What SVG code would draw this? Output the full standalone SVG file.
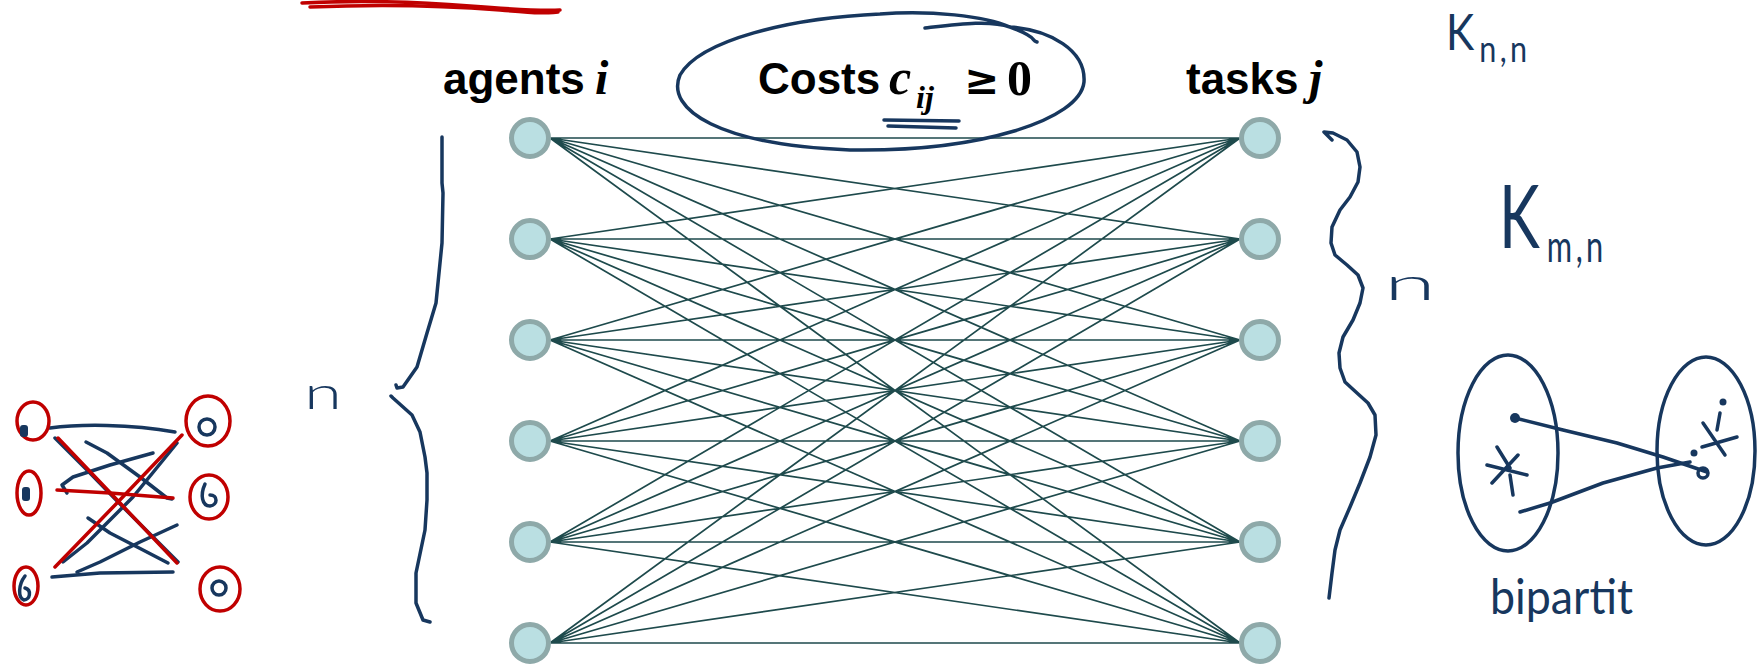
<svg xmlns="http://www.w3.org/2000/svg" width="1757" height="665" viewBox="0 0 1757 665">
<style>
.node{fill:#badfe2;stroke:#8ea9a9;stroke-width:5}
.edge{stroke:#1e4a4c;stroke-width:1.7;fill:none}
.lbl{font-family:"Liberation Sans",Arial,sans-serif;font-weight:bold;font-size:44px;fill:#000}
.math{font-family:"Liberation Serif","Times New Roman",serif;font-weight:bold;font-style:italic}
.ink{fill:none;stroke:#17375e;stroke-width:3.5;stroke-linecap:round;stroke-linejoin:round}
.red{fill:none;stroke:#c00000;stroke-width:3.5;stroke-linecap:round;stroke-linejoin:round}
.hand{font-family:Lato,"DejaVu Sans",sans-serif;font-weight:400;fill:#17375e}
.thin{font-weight:300}
</style>
<rect width="1757" height="665" fill="#fff"/>

<g id="connectors">
<path class="edge" d="M550 138L1240 138M550 138L1240 239M550 138L1240 340M550 138L1240 441M550 138L1240 542M550 138L1240 643
M550 239L1240 138M550 239L1240 239M550 239L1240 340M550 239L1240 441M550 239L1240 542M550 239L1240 643
M550 340L1240 138M550 340L1240 239M550 340L1240 340M550 340L1240 441M550 340L1240 542M550 340L1240 643
M550 441L1240 138M550 441L1240 239M550 441L1240 340M550 441L1240 441M550 441L1240 542M550 441L1240 643
M550 542L1240 138M550 542L1240 239M550 542L1240 340M550 542L1240 441M550 542L1240 542M550 542L1240 643
M550 643L1240 138M550 643L1240 239M550 643L1240 340M550 643L1240 441M550 643L1240 542M550 643L1240 643"/>
</g>

<g id="agent1"><circle class="node" cx="530" cy="138" r="18.5"/></g>
<g id="agent2"><circle class="node" cx="530" cy="239" r="18.5"/></g>
<g id="agent3"><circle class="node" cx="530" cy="340" r="18.5"/></g>
<g id="agent4"><circle class="node" cx="530" cy="441" r="18.5"/></g>
<g id="agent5"><circle class="node" cx="530" cy="542" r="18.5"/></g>
<g id="agent6"><circle class="node" cx="530" cy="643" r="18.5"/></g>
<g id="task1"><circle class="node" cx="1260" cy="138" r="18.5"/></g>
<g id="task2"><circle class="node" cx="1260" cy="239" r="18.5"/></g>
<g id="task3"><circle class="node" cx="1260" cy="340" r="18.5"/></g>
<g id="task4"><circle class="node" cx="1260" cy="441" r="18.5"/></g>
<g id="task5"><circle class="node" cx="1260" cy="542" r="18.5"/></g>
<g id="task6"><circle class="node" cx="1260" cy="643" r="18.5"/></g>

<g id="titles">
<text class="lbl" x="443" y="94">agents<tspan class="math" x="595" font-size="48">i</tspan></text>
<text class="lbl" x="758" y="94">Costs<tspan class="math" x="889" font-size="50">c</tspan><tspan class="math" x="916" y="108" font-size="32">ij</tspan><tspan x="964" y="94" font-weight="bold" font-family="DejaVu Sans,sans-serif" font-size="42">≥</tspan><tspan x="1007" y="95" font-family="Liberation Serif,serif" font-size="50">0</tspan></text>
<text class="lbl" x="1186" y="94">tasks<tspan class="math" x="1309" font-size="48">j</tspan></text>
</g>

<g id="ink-annotations">
<path class="red" stroke-width="6" d="M302 3C360 0 420 2 470 6S540 11 560 10"/>
<path class="red" stroke-width="3" d="M310 7C380 4 450 6 500 10S545 13 558 12"/>
<path class="ink" d="M925 28C960 24 990 20 1010 27C1040 38 1030 40 1037 42M1010 27C985 16 930 10 880 14C790 18 700 40 680 75C665 110 720 145 850 150C980 152 1080 120 1084 82C1086 50 1050 30 1010 27"/>
<path class="ink" stroke-width="4" d="M884 120L959 121M888 126L956 128"/>

<path class="ink" d="M442 137L442 183L443 193L442 243L436 303L427 333L417 367L410 377L403 387L397 388L396 385M391 396L393 398L412 415L420 432L425 457L427 473L427 500L425 530L416 573L416 603L423 620L430 622"/>
<text class="hand thin" x="304" y="409" font-size="46" textLength="38" lengthAdjust="spacingAndGlyphs">n</text>

<path class="ink" d="M1332 140L1324 132L1333 133L1347 140L1357 152L1360 167L1358 182L1350 197L1340 210L1332 227L1331 243L1335 255L1347 265L1358 275L1363 288L1360 303L1353 320L1343 337L1339 353L1340 368L1345 382L1357 393L1368 403L1375 415L1376 435L1370 457L1360 483L1350 507L1340 530L1335 550L1332 573L1329 598"/>
<text class="hand thin" x="1384" y="300" font-size="46" textLength="52" lengthAdjust="spacingAndGlyphs">n</text>

<text class="hand" transform="translate(1446 50) scale(0.85 1)" font-size="50">K<tspan dx="6" dy="12" font-size="36" letter-spacing="4">n,n</tspan></text>
<text class="hand" transform="translate(1499 248) scale(0.7 1)" font-size="88">K<tspan dx="10" dy="14" font-size="44" letter-spacing="5">m,n</tspan></text>

<ellipse class="ink" cx="1508" cy="453" rx="50" ry="98"/>
<ellipse class="ink" cx="1706" cy="451" rx="49" ry="94"/>
<circle cx="1515" cy="418" r="5" fill="#17375e"/>
<path class="ink" d="M1515 418L1563 430L1617 443L1663 457L1707 472"/>
<path class="ink" d="M1520 512L1550 503L1603 483L1657 468L1690 462"/>
<circle class="ink" cx="1703" cy="473" r="5" stroke-width="3"/>
<circle cx="1694" cy="453" r="3.5" fill="#17375e"/>
<path class="ink" d="M1487 465L1527 475M1497 447L1510 468M1492 483L1518 455M1510 475L1513 495"/>
<path class="ink" d="M1703 423L1725 455M1702 447L1737 437M1720 413L1717 430"/>
<circle cx="1723" cy="402" r="3.5" fill="#17375e"/>
<text class="hand" x="1490" y="614" font-size="48" textLength="143" lengthAdjust="spacingAndGlyphs">bipartit</text>

<g id="crossed-sketch">
<path class="ink" d="M50 428C80 424 130 424 175 432"/>
<path class="ink" d="M55 438L87 470L123 507L178 562"/>
<path class="ink" d="M86 442L107 453L140 477L167 498L172 499"/>
<path class="ink" d="M153 453L110 465L73 477L62 485L67 493"/>
<path class="ink" d="M177 443L133 497L87 543L63 562"/>
<path class="ink" d="M88 518L110 533L143 550L168 563"/>
<path class="ink" d="M177 525L140 542L100 562L77 572"/>
<path class="ink" d="M52 577L100 573L173 572"/>
<path class="red" stroke-width="6" d="M58 438L120 503L177 563"/>
<path class="red" stroke-width="6" d="M182 435L117 503L55 567"/>
<path class="red" stroke-width="6" d="M57 490L110 493L173 498"/>
<ellipse class="red" cx="33" cy="421" rx="16" ry="19"/>
<rect x="20" y="425" width="8" height="12" rx="3" fill="#17375e"/>
<ellipse class="red" cx="29" cy="493" rx="12" ry="22"/>
<rect x="22" y="487" width="8" height="14" rx="3" fill="#17375e"/>
<ellipse class="red" cx="26" cy="586" rx="12" ry="19"/>
<path class="ink" d="M25 576C18 585 18 598 24 600C30 600 32 590 25 588"/>
<ellipse class="red" cx="208" cy="421" rx="22" ry="25"/>
<circle class="ink" cx="207" cy="427" r="8"/>
<ellipse class="red" cx="209" cy="497" rx="19" ry="22"/>
<path class="ink" d="M205 484C200 495 202 506 210 506C218 505 218 495 210 495"/>
<ellipse class="red" cx="220" cy="589" rx="20" ry="22"/>
<circle class="ink" cx="219" cy="588" r="7"/>
</g>
</g>
</svg>
